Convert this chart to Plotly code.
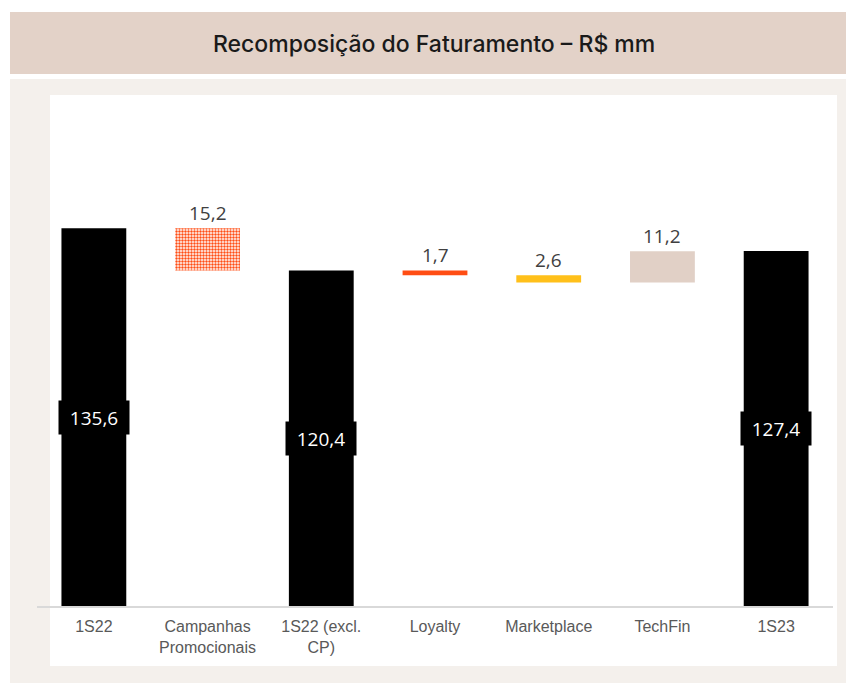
import plotly.graph_objects as go

categories = ["1S22", "Campanhas<br>Promocionais", "1S22 (excl.<br>CP)", "Loyalty", "Marketplace", "TechFin", "1S23"]
values = [135.6, -15.2, 120.4, -1.7, -2.6, 11.2, 127.4]
is_total = [True, False, True, False, False, False, True]
colors = ["#000000", "#ff4d14", "#000000", "#ff4d14", "#ffc01a", "#e1d0c6", "#000000"]
patterned = [False, True, False, False, False, False, False]
title_text = "Recomposição do Faturamento – R$ mm"

W, H = 846, 683
ML, MR, MT, MB = 37, 13, 188, 77
YMAX = 150

# compute bases and heights
bases, heights, tops = [], [], []
running = 0.0
for v, tot in zip(values, is_total):
    if tot:
        bases.append(0)
        heights.append(v)
        running = v
        tops.append(v)
    else:
        new = running + v
        lo, hi = min(running, new), max(running, new)
        bases.append(lo)
        heights.append(hi - lo)
        tops.append(hi)
        running = new

def fmt(v):
    return f"{abs(v):.1f}".replace(".", ",")

xs = list(range(len(categories)))
solid_idx = [i for i in xs if not patterned[i]]
pat_idx = [i for i in xs if patterned[i]]

fig = go.Figure()
fig.add_trace(go.Bar(
    x=solid_idx, y=[heights[i] for i in solid_idx], base=[bases[i] for i in solid_idx],
    marker=dict(color=[colors[i] for i in solid_idx], line=dict(width=0)),
    width=0.57, hoverinfo="skip", showlegend=False,
))
fig.add_trace(go.Bar(
    x=pat_idx, y=[heights[i] for i in pat_idx], base=[bases[i] for i in pat_idx],
    marker=dict(color="#ffffff", line=dict(width=0),
                pattern=dict(shape=".", fgcolor=colors[pat_idx[0]], bgcolor="#ffffff",
                             size=3, solidity=0.5, fillmode="replace")),
    width=0.57, hoverinfo="skip", showlegend=False,
))

annotations = []
for i, (v, tot) in enumerate(zip(values, is_total)):
    if tot:
        annotations.append(dict(
            x=i, y=v / 2, xref="x", yref="y", text=fmt(v), showarrow=False,
            font=dict(family="Open Sans, Noto Sans, sans-serif", size=19, color="#ffffff"),
            bgcolor="#000000", width=60, height=23, borderpad=5,
            xanchor="center", yanchor="middle",
        ))
    else:
        annotations.append(dict(
            x=i, y=tops[i], xref="x", yref="y", text=fmt(v), showarrow=False,
            font=dict(family="Open Sans, Noto Sans, sans-serif", size=19, color="#404040"),
            xanchor="center", yanchor="bottom", yshift=0,
        ))

def px_x(p):
    return (p - ML) / (W - ML - MR)

def px_y(p):
    return (H - MB - p) / (H - MT - MB)

shapes = [
    dict(type="rect", xref="paper", yref="paper", x0=px_x(10), x1=px_x(846), y0=px_y(683), y1=px_y(79),
         fillcolor="#f4f0ec", line=dict(width=0), layer="below"),
    dict(type="rect", xref="paper", yref="paper", x0=px_x(50), x1=px_x(837), y0=px_y(666), y1=px_y(95),
         fillcolor="#ffffff", line=dict(width=0), layer="below"),
    dict(type="rect", xref="paper", yref="paper", x0=px_x(10), x1=px_x(846), y0=px_y(74), y1=px_y(12),
         fillcolor="#e3d2c8", line=dict(width=0), layer="below"),
]
annotations.append(dict(
    x=px_x(434), y=px_y(44), xref="paper", yref="paper", text=title_text, showarrow=False,
    font=dict(family="Inter, Noto Sans, sans-serif", size=23, color="#1a1a1a", weight=500),
    xanchor="center", yanchor="middle",
))

fig.update_layout(
    width=W, height=H,
    margin=dict(l=ML, r=MR, t=MT, b=MB),
    paper_bgcolor="#ffffff", plot_bgcolor="rgba(0,0,0,0)",
    barmode="overlay",
    xaxis=dict(
        tickmode="array", tickvals=xs, ticktext=categories,
        range=[-0.5, len(categories) - 0.5], showgrid=False, zeroline=False,
        showline=True, linecolor="#d9d9d9", linewidth=1.5, ticks="",
        ticklabelstandoff=5,
        tickfont=dict(family="Liberation Sans, Arial, sans-serif", size=16, color="#595959"),
    ),
    yaxis=dict(range=[0, YMAX], visible=False, showgrid=False, zeroline=False),
    shapes=shapes, annotations=annotations,
)

fig.write_html("out.html", config={"displayModeBar": False},
               post_script="document.body.style.margin='0';")
